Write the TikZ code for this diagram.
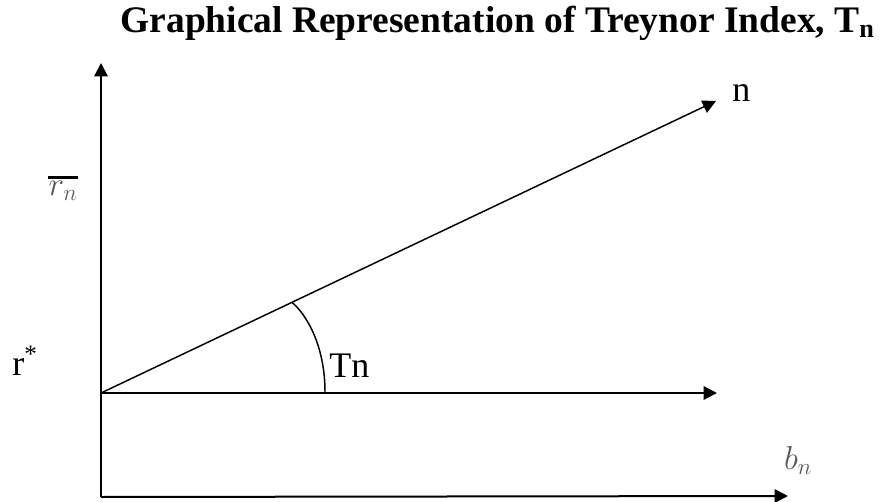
\documentclass[tikz,border=0pt]{standalone}
\usepackage{fontspec}
\setmainfont{Liberation Serif}
\usepackage{amsmath}
\usetikzlibrary{arrows.meta,calc,positioning}

\begin{document}
\begin{tikzpicture}[
    x=0.75pt,
    y=-0.75pt,
    >={Triangle[length=10pt, width=10pt]},
    axis/.style={->, line width=1.5pt},
    ray/.style={->, line width=1.1pt},
    lbl/.style={font=\fontsize{27}{30}\selectfont, inner sep=0pt},
    mathlbl/.style={font=\fontsize{27}{29}\selectfont, inner sep=0pt, text=black!65},
    title/.style={font=\fontsize{28.1}{31}\selectfont\bfseries, inner sep=0pt}
]
\useasboundingbox (0,0) rectangle (881,502);

% axes
\coordinate (origin) at (101,497);
\coordinate (rstar) at (101,393);
\coordinate (ytop) at (101,63);
\coordinate (xend) at (788,496);
\coordinate (mend) at (717,393);
\coordinate (nend) at (716,101);

\draw[axis] (origin) -- (ytop);
\draw[axis] (origin) -- (xend);
\draw[axis] (rstar) -- (mend);
\draw[ray] (rstar) -- (nend);

% angle
\coordinate (arcstart) at ($(rstar)!0.3105!(nend)$);
\coordinate (arcend) at (325,392);
\draw[line width=1.1pt] (arcstart) .. controls (306,314) and (325,345) .. (arcend);

% labels
\node[title, anchor=base east] (heading) at (875,33) {Graphical Representation of Treynor Index, T\textsubscript{n}};
\node[lbl, anchor=base west] (nlabel) at (732,102) {n};
\node[lbl, anchor=base west] (tnlabel) at (329,377) {Tn};
\node[lbl, anchor=base west] (rlabel) at (12,375) {r\textsuperscript{*}};
\node[mathlbl] (rnbar) at (63,191) {$r_n$};
\draw[line width=2.2pt] ([yshift=3pt]rnbar.north west) -- ([yshift=3pt]rnbar.north east);
\node[mathlbl] (bnlabel) at (798,460) {$b_n$};
\end{tikzpicture}
\end{document}
